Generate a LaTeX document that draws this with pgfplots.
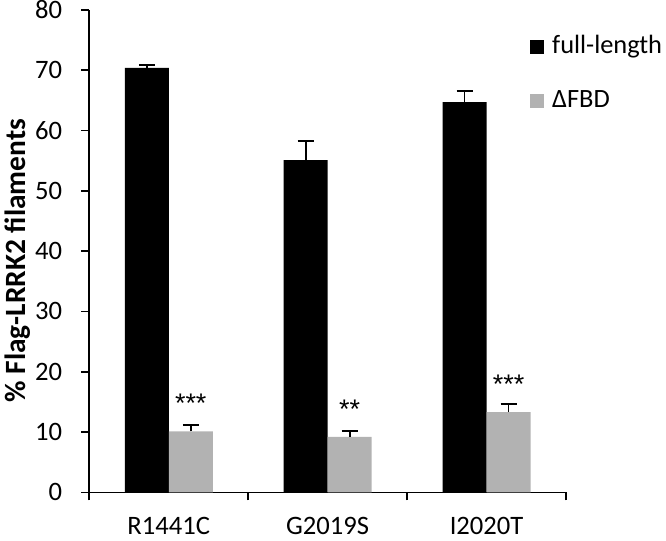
\documentclass[border=0pt]{standalone}
\usepackage{fontspec}
\setmainfont{Carlito}
\newfontfamily\starfont{Liberation Sans}
\usepackage{pgfplots}
\usepackage{pgfplotstable}
\pgfplotsset{compat=1.18}
\definecolor{fbd}{RGB}{178,178,178}
\pgfplotstableread{
x y e
1 70.4 0.5
2 55.1 3.2
3 64.7 1.8
}\fulltab
\pgfplotstableread{
x y e s
1 10.1 1.1 ***
2 9.2 1.0 **
3 13.3 1.4 ***
}\fbdtab
\begin{document}
\fontsize{27}{32}\selectfont
\begin{tikzpicture}
\useasboundingbox (0,0) rectangle (666bp,541bp);
\begin{axis}[
  at={(89.3bp,48.7bp)}, anchor=south west,
  scale only axis, width=476.7bp, height=482.3bp,
  ymin=0, ymax=80, ytick={0,10,...,80},
  xmin=0.5, xmax=3.5,
  xtick={0.5,1.5,2.5,3.5}, xticklabels={},
  extra x ticks={1,2,3}, extra x tick labels={R1441C,G2019S,I2020T},
  extra x tick style={major tick length=0pt, tick label style={yshift=-16bp}},
  axis x line*=bottom, axis y line*=left,
  tick align=outside, major tick length=8bp,
  axis line style={line width=1.6bp, black},
  tick style={line width=1.6bp, black},
  ybar=0pt, bar width=44bp,
  /pgf/number format/assume math mode=true,
  tick label style={font=\fontsize{26.7}{32}\selectfont},
  yticklabel style={xshift=-10bp},
  ylabel={\bfseries\% Flag-LRRK2 filaments},
  ylabel style={at={(axis description cs:-0.151,0.48)}, anchor=center, font=\fontsize{29.5}{34}\selectfont},
  legend style={draw=none, fill=none, at={(0.9245,0.868)}, anchor=west,
    row sep=29bp, column sep=6bp, inner sep=0pt, font=\fontsize{26.5}{32}\selectfont},
  legend cell align=left,
  legend image code/.code={\fill[#1] (0bp,-7bp) rectangle (14bp,7bp);},
]
\addplot[fill=black, draw=none,
  error bars/.cd, y dir=plus, y explicit,
  error bar style={draw=black, line width=1.8bp},
  error mark options={rotate=90, mark size=8bp, line width=1.8bp, draw=black}]
  table[x=x, y=y, y error=e] {\fulltab};
\addlegendentry{full-length}
\addplot[fill=fbd, draw=none,
  point meta=explicit symbolic,
  nodes near coords,
  nodes near coords style={anchor=base, yshift=18.5bp, font=\starfont\fontsize{27}{32}\selectfont, text=black},
  error bars/.cd, y dir=plus, y explicit,
  error bar style={draw=black, line width=1.8bp},
  error mark options={rotate=90, mark size=8bp, line width=1.8bp, draw=black}]
  table[x=x, y=y, y error=e, meta=s] {\fbdtab};
\addlegendentry{ΔFBD}
\end{axis}
\end{tikzpicture}
\end{document}
